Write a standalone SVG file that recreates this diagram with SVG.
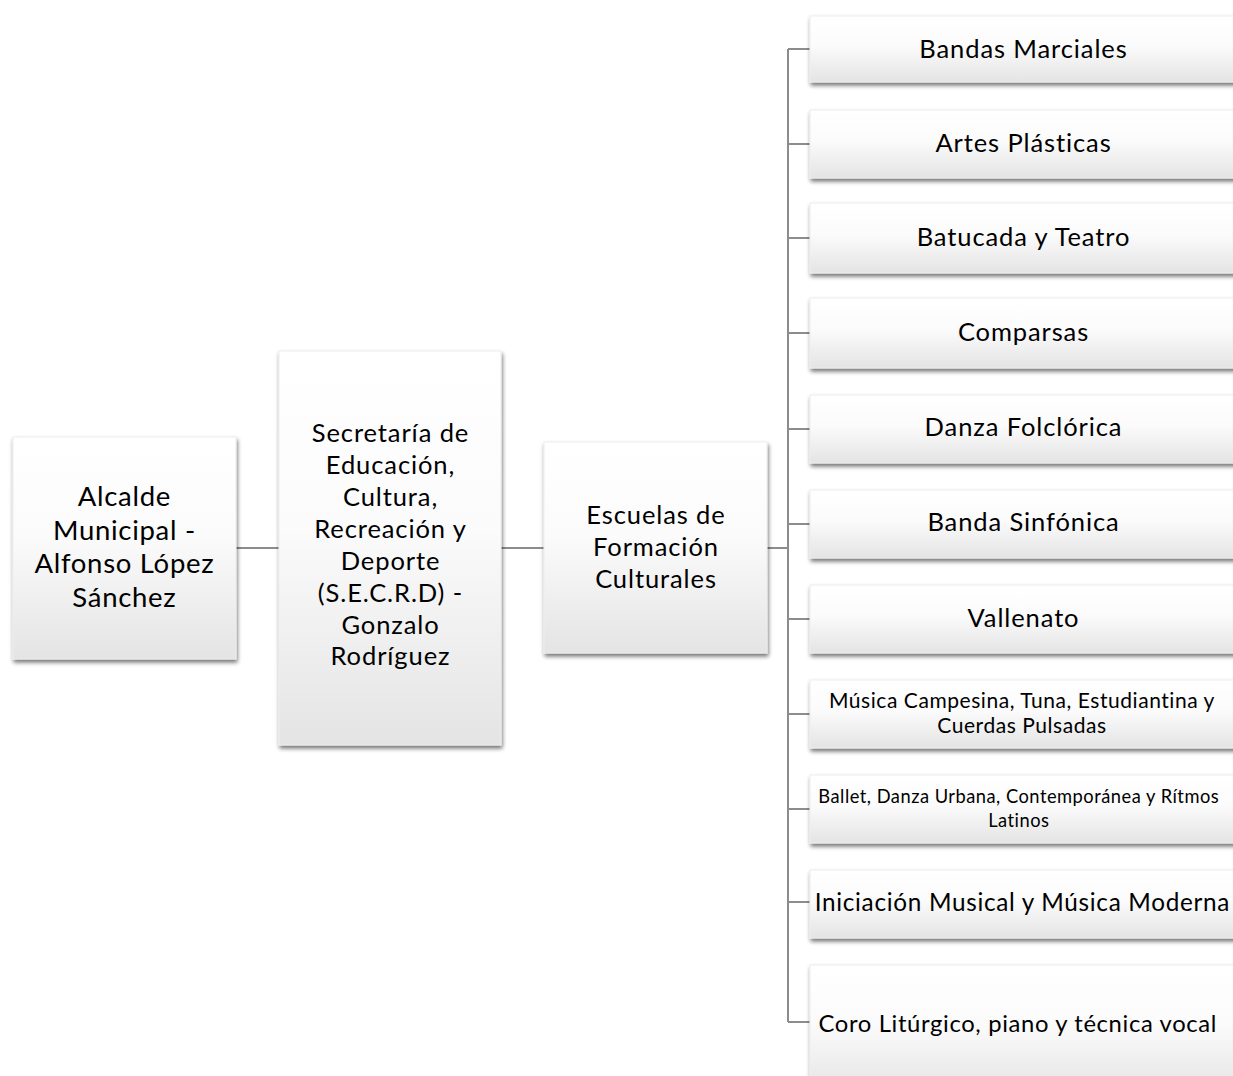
<svg xmlns="http://www.w3.org/2000/svg" width="1233" height="1076" viewBox="0 0 1233 1076">
<style>
.box{fill:url(#g);stroke:#ededed;stroke-width:1;filter:url(#sh)}
.t{font-family:Lato,"Noto Sans",sans-serif;fill:#000;text-anchor:middle}
.big{font-size:27.5px;letter-spacing:0.7px}
.mid{font-size:25.5px;letter-spacing:0.9px}
.sm1{font-size:21px;letter-spacing:0.55px}
.sm2{font-size:18.3px;letter-spacing:0.5px}
.lg1{font-size:24.3px;letter-spacing:0.7px}
.lg2{font-size:23.8px;letter-spacing:0.65px}
.c{stroke:#8c8c8c;stroke-width:2;fill:none}
</style>
<defs>
<linearGradient id="g" x1="0" y1="0" x2="0" y2="1">
<stop offset="0" stop-color="#ffffff"/>
<stop offset="0.45" stop-color="#fbfbfb"/>
<stop offset="1" stop-color="#e4e4e4"/>
</linearGradient>
<filter id="sh" x="-10%" y="-10%" width="130%" height="130%">
<feGaussianBlur in="SourceAlpha" stdDeviation="2"/>
<feOffset dx="1" dy="3" result="b"/>
<feComponentTransfer><feFuncA type="linear" slope="0.55"/></feComponentTransfer>
<feMerge><feMergeNode/><feMergeNode in="SourceGraphic"/></feMerge>
</filter>
</defs>
<rect width="1233" height="1076" fill="#fff"/>
<g id="connectors">
<path class="c" d="M236 548H279M501 548H544M767 548H788"/>
<path class="c" d="M788 49V1022"/>
<path class="c" d="M788 49H810M788 144H810M788 238H810M788 333H810M788 429H810M788 524H810M788 619H810M788 714H810M788 809H810M788 902H810M788 1022H810"/>
</g>
<g id="n1"><rect class="box" x="13" y="437" width="223" height="222"/>
<text class="t big"><tspan x="124.4" y="506">Alcalde</tspan><tspan x="124.4" y="540">Municipal -</tspan><tspan x="124.4" y="573">Alfonso López</tspan><tspan x="124.4" y="607">Sánchez</tspan></text></g>
<g id="n2"><rect class="box" x="279" y="351" width="222" height="394"/>
<text class="t mid"><tspan x="390.5" y="442">Secretaría de</tspan><tspan x="390.5" y="474">Educación,</tspan><tspan x="390.5" y="506">Cultura,</tspan><tspan x="390.5" y="538">Recreación y</tspan><tspan x="390.5" y="570">Deporte</tspan><tspan x="390.5" y="602">(S.E.C.R.D) -</tspan><tspan x="390.5" y="634">Gonzalo</tspan><tspan x="390.5" y="665">Rodríguez</tspan></text></g>
<g id="n3"><rect class="box" x="544" y="442" width="223" height="211"/>
<text class="t mid"><tspan x="656" y="524">Escuelas de</tspan><tspan x="656" y="556">Formación</tspan><tspan x="656" y="588">Culturales</tspan></text></g>
<g id="r1"><rect class="box" x="810" y="16" width="427" height="66"/><text class="t mid" x="1023.5" y="58">Bandas Marciales</text></g>
<g id="r2"><rect class="box" x="810" y="110" width="427" height="68"/><text class="t mid" x="1023.5" y="152">Artes Plásticas</text></g>
<g id="r3"><rect class="box" x="810" y="203" width="427" height="70"/><text class="t mid" x="1023.5" y="246">Batucada y Teatro</text></g>
<g id="r4"><rect class="box" x="810" y="298" width="427" height="70"/><text class="t mid" x="1023.5" y="341">Comparsas</text></g>
<g id="r5"><rect class="box" x="810" y="395" width="427" height="68"/><text class="t mid" x="1023.5" y="436">Danza Folclórica</text></g>
<g id="r6"><rect class="box" x="810" y="490" width="427" height="68"/><text class="t mid" x="1023.5" y="531">Banda Sinfónica</text></g>
<g id="r7"><rect class="box" x="810" y="585" width="427" height="68"/><text class="t mid" x="1023.5" y="627">Vallenato</text></g>
<g id="r8"><rect class="box" x="810" y="680" width="427" height="68"/><text class="t sm1"><tspan x="1022" y="708">Música Campesina, Tuna, Estudiantina y</tspan><tspan x="1022" y="733">Cuerdas Pulsadas</tspan></text></g>
<g id="r9"><rect class="box" x="810" y="775" width="427" height="68"/><text class="t sm2"><tspan x="1018.8" y="803">Ballet, Danza Urbana, Contemporánea y Rítmos</tspan><tspan x="1018.8" y="827">Latinos</tspan></text></g>
<g id="r10"><rect class="box" x="810" y="870" width="427" height="68"/><text class="t lg1" x="1022.4" y="911">Iniciación Musical y Música Moderna</text></g>
<g id="r11"><rect class="box" x="810" y="965" width="427" height="130"/><text class="t lg2" x="1017.8" y="1032">Coro Litúrgico, piano y técnica vocal</text></g>
</svg>
